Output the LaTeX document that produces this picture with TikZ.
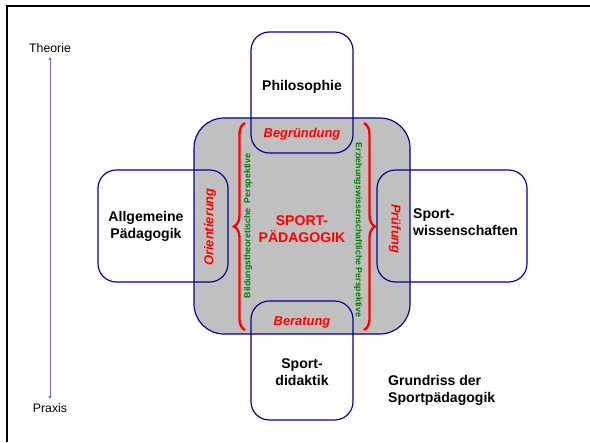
\documentclass[tikz,border=0pt]{standalone}
\usepackage{fontspec}
\setmainfont{Liberation Sans}
\usetikzlibrary{decorations.pathreplacing,arrows.meta}
\definecolor{navy}{RGB}{0,0,150}
\definecolor{hellgrau}{RGB}{192,192,192}
\definecolor{gruen}{RGB}{0,128,0}
\definecolor{pfeil}{RGB}{110,110,210}
\begin{document}
\begin{tikzpicture}[x=0.03cm,y=-0.03cm,
  kasten/.style={draw=navy,line width=1pt,rounded corners=0.55cm},
  titel/.style={font=\fontsize{12}{14.5}\selectfont\bfseries,align=center,inner sep=0pt},
  rotlabel/.style={text=red,font=\fontsize{11}{13}\selectfont\bfseries\itshape,inner sep=0pt},
  perspektive/.style={text=gruen,font=\fontsize{7.5}{9}\selectfont\bfseries,inner sep=0pt},
  klammer/.style={draw=red,line width=2pt,decorate,decoration={brace,amplitude=0.33cm}}]
\useasboundingbox (0,0) rectangle (590,442);
\draw[line width=2.5pt] (7,442)--(7,6)--(590,6);
% Theorie - Praxis
\node (theorie) at (50,48) {\fontsize{10.5}{12}\selectfont Theorie};
\node (praxis) at (50,408) {\fontsize{10.5}{12}\selectfont Praxis};
\draw[pfeil,line width=0.8pt,{Latex[length=3pt,width=3pt]}-{Latex[length=3pt,width=3pt]}] (theorie.south)--(praxis.north);
% Mitte
\draw[fill=hellgrau,draw=navy,line width=1pt,rounded corners=0.9cm] (194,118) rectangle (410,334);
\draw[kasten] (251,32) rectangle (353,153);
\draw[kasten] (251,301) rectangle (353,420);
\draw[kasten] (98,170) rectangle (228,282);
\draw[kasten] (377,170) rectangle (527,282);
\node[titel] (philo) at (302,87) {Philosophie};
\node[titel] (didaktik) at (302,372) {Sport-\\didaktik};
\node[titel] (allg) at (146,226) {Allgemeine\\Pädagogik};
\node[titel,align=left,anchor=west] (sportwiss) at (413,222) {Sport-\\wissenschaften};
\node[titel,text=red] (sportpaed) at (302,229) {SPORT-\\PÄDAGOGIK};
\node[rotlabel] (begr) at (302,134) {Begründung};
\node[rotlabel] (berat) at (302,322) {Beratung};
\node[rotlabel,rotate=90] (orient) at (210,227) {Orientierung};
\node[rotlabel,rotate=-90] (pruef) at (395,229) {Prüfung};
\node[perspektive,rotate=90] (bildung) at (248,226) {Bildungstheoretische\hspace{0.6em}Perspektive};
\node[perspektive,rotate=-90] (erziehung) at (358,230) {Erziehungswissenschaftliche Perspektive};
\draw[klammer] (245,330)--(245,123);
\draw[klammer] (364,123)--(364,330);
\node[titel,align=left,anchor=west] (grundriss) at (388,390) {Grundriss der\\Sportpädagogik};
\end{tikzpicture}
\end{document}
